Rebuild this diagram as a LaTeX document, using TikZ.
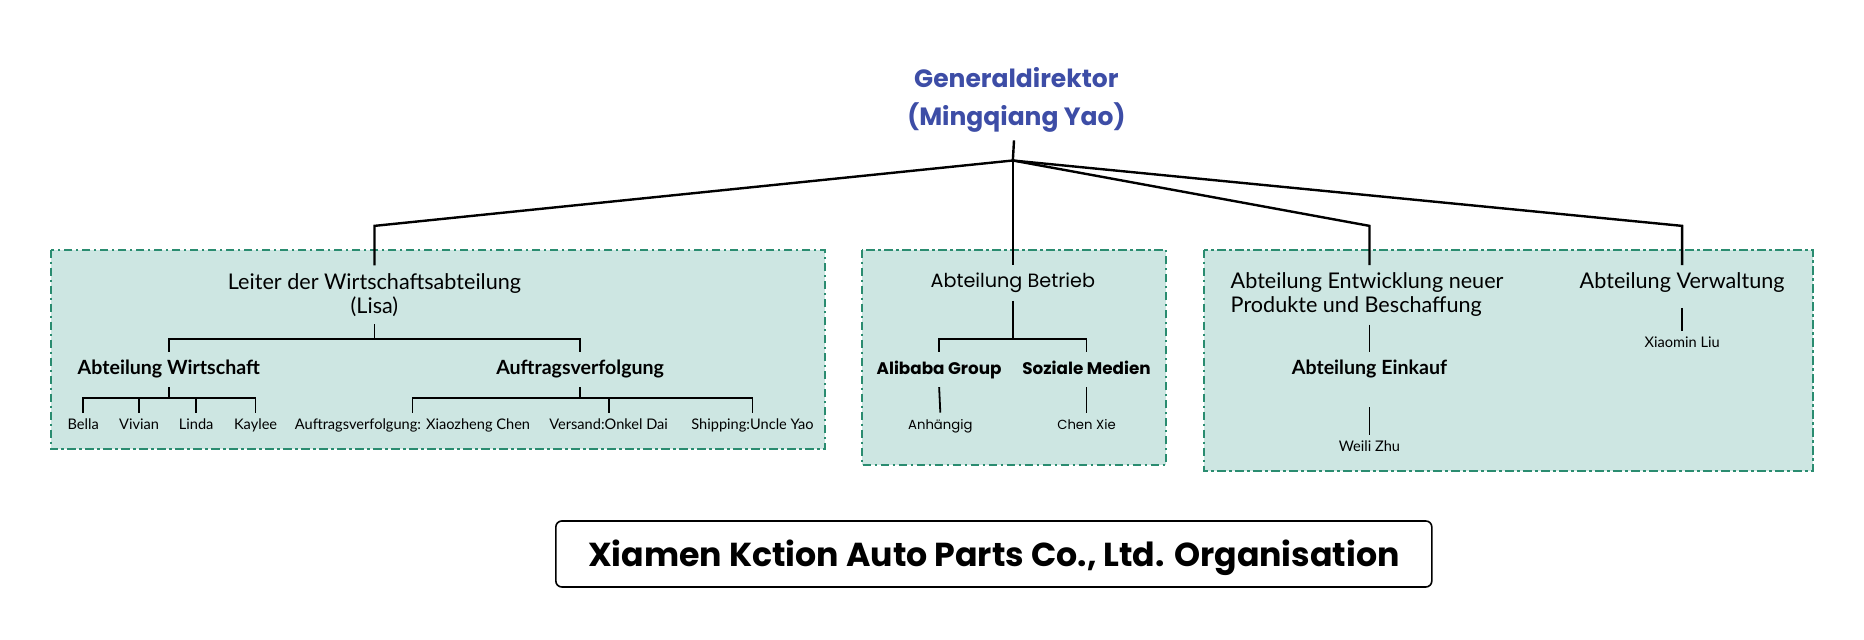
\documentclass[tikz,border=0pt]{standalone}
\usepackage{fontspec}
\setmainfont{Lato}
\newfontfamily\popfont{Poppins}
\usepackage{tikz}
\pgfdeclarelayer{boxlayer}
\pgfdeclarelayer{edgelayer}
\pgfdeclarelayer{nodelayer}
\pgfsetlayers{boxlayer,edgelayer,nodelayer,main}
\definecolor{boxfill}{HTML}{CDE6E2}
\definecolor{boxline}{HTML}{2A8C70}
\definecolor{chiefblue}{HTML}{3D4DA6}
\tikzstyle{edge}=[draw=black, line width=1.2pt]
\tikzstyle{twig}=[draw=black, line width=0.9pt]
\tikzstyle{group}=[fill=boxfill, draw=boxline, line width=0.9pt, dash pattern=on 4.2pt off 1.8pt on 1.2pt off 1.8pt]
\tikzstyle{chief}=[inner sep=0pt, outer ysep=4pt, align=center, text=chiefblue, font=\popfont\bfseries\fontsize{12.5}{19}\selectfont]
\tikzstyle{head}=[inner sep=0pt, outer ysep=4pt, align=center, font=\fontsize{10.8}{11.9}\selectfont]
\tikzstyle{sub}=[inner sep=0pt, outer ysep=4pt, text height=7.2pt, text depth=2.2pt, font=\bfseries\fontsize{9.8}{11}\selectfont]
\tikzstyle{person}=[inner sep=0pt, outer ysep=3pt, text height=5.4pt, text depth=1.6pt, font=\fontsize{7.3}{8}\selectfont]
\tikzstyle{banner}=[draw=black, line width=0.8pt, rounded corners=3pt, minimum width=438pt, minimum height=33pt, text depth=1pt, font=\popfont\bfseries\fontsize{16.6}{19}\selectfont]

\begin{document}
\begin{tikzpicture}[x=0.5944pt, y=-0.5944pt]
	\useasboundingbox (0,0) rectangle (1568,538);
	\begin{pgfonlayer}{boxlayer}
		\filldraw [style=group] (43,210) rectangle (694,378);
		\filldraw [style=group] (725,210) rectangle (981,391);
		\filldraw [style=group] (1013,210) rectangle (1525,396);
	\end{pgfonlayer}
	\begin{pgfonlayer}{nodelayer}
		\node [style=chief] (gd) at (855,84) {Generaldirektor\\ (Mingqiang Yao)};
		% Wirtschaft
		\node [style=head] (leiter) at (315,248) {Leiter der Wirtschaftsabteilung\\(Lisa)};
		\node [style=sub] (wirt) at (142,311) {Abteilung Wirtschaft};
		\node [style=sub] (auftr) at (488,311) {Auftragsverfolgung};
		\node [style=person] (bella) at (70,358) {Bella};
		\node [style=person] (vivian) at (117,358) {Vivian};
		\node [style=person] (linda) at (165,358) {Linda};
		\node [style=person] (kaylee) at (215,358) {Kaylee};
		\node [style=person] (xiao) at (347,358) {Auftragsverfolgung: Xiaozheng Chen};
		\node [style=person] (onkel) at (512,358) {Versand:Onkel Dai};
		\node [style=person] (uncle) at (633,358) {Shipping:Uncle Yao};
		% Betrieb
		\node [style=head, font=\popfont\fontsize{9.6}{11}\selectfont] (betrieb) at (852,238) {Abteilung Betrieb};
		\node [style=sub, font=\popfont\bfseries\fontsize{8.4}{10}\selectfont] (alibaba) at (790,311) {Alibaba Group};
		\node [style=sub, font=\popfont\bfseries\fontsize{8.4}{10}\selectfont] (soziale) at (914,311) {Soziale Medien};
		\node [style=person, font=\popfont\fontsize{6.6}{8}\selectfont] (anh) at (791,358) {Anhängig};
		\node [style=person, font=\popfont\fontsize{6.6}{8}\selectfont] (chen) at (914,358) {Chen Xie};
		% Entwicklung / Verwaltung
		\node [style=head, align=left] (entw) at (1150,248) {Abteilung Entwicklung neuer\\Produkte und Beschaffung};
		\node [style=sub] (einkauf) at (1152,311) {Abteilung Einkauf};
		\node [style=person] (weili) at (1152,377) {Weili Zhu};
		\node [style=head] (verw) at (1415,238) {Abteilung Verwaltung};
		\node [style=person] (liu) at (1415,289) {Xiaomin Liu};
		\node [style=banner] (org) at (836,466) {Xiamen Kction Auto Parts Co., Ltd. Organisation};
	\end{pgfonlayer}
	\begin{pgfonlayer}{edgelayer}
		\coordinate (hub) at (852,135);
		\coordinate (e1) at (315,190);
		\coordinate (e3) at (1152,190);
		\coordinate (e4) at (1415,190);
		\coordinate (b1) at (315,285);
		\coordinate (b2) at (142,335);
		\coordinate (b3) at (488,335);
		\coordinate (b4) at (852,285);
		\draw [style=edge] (gd) -- (hub);
		\draw [style=edge] (hub) -- (e1) -- (leiter.north);
		\draw [style=edge] (hub) -- (betrieb.north);
		\draw [style=edge] (hub) -- (e3) -- (e3 |- entw.north);
		\draw [style=edge] (hub) -- (e4) -- (verw.north);
		\draw [style=twig] (leiter.south) -- (b1);
		\draw [style=twig] (b1) -| (wirt.north);
		\draw [style=twig] (b1) -| (auftr.north);
		\draw [style=twig] (wirt.south) -- (b2);
		\foreach \who in {bella,vivian,linda,kaylee}
			\draw [style=twig] (b2) -| (\who.north);
		\draw [style=twig] (auftr.south) -- (b3);
		\foreach \who in {xiao,onkel,uncle}
			\draw [style=twig] (b3) -| (\who.north);
		\draw [style=twig] (betrieb.south) -- (b4);
		\draw [style=twig] (b4) -| (alibaba.north);
		\draw [style=twig] (b4) -| (soziale.north);
		\draw [style=twig] (alibaba.south) -- (anh.north);
		\draw [style=twig] (soziale.south) -- (chen.north);
		\draw [style=twig] (einkauf.north |- entw.south) -- (einkauf.north);
		\draw [style=twig, shorten <=10pt] (einkauf.south) -- (weili.north);
		\draw [style=twig, shorten <=3.5pt] (verw.south) -- (liu.north);
	\end{pgfonlayer}
\end{tikzpicture}
\end{document}
